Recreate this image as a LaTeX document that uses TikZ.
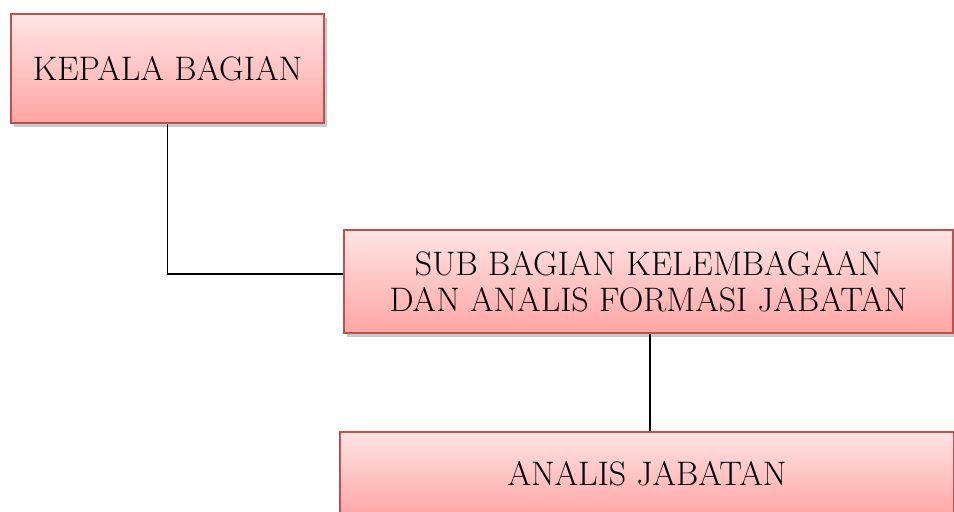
\documentclass[tikz,border=0pt]{standalone}
\usetikzlibrary{shadows}
\definecolor{boxtop}{RGB}{255,228,228}
\definecolor{boxbottom}{RGB}{255,165,165}
\definecolor{boxline}{RGB}{192,80,77}
\begin{document}
\begin{tikzpicture}[x=0.75pt,y=-0.75pt,
    unitbox/.style={draw=boxline, line width=1.2pt, top color=boxtop, bottom color=boxbottom,
      drop shadow={shadow xshift=2pt, shadow yshift=-3pt, opacity=0.3, fill=black!70},
      align=center, inner sep=0pt, font=\fontsize{25.5}{27}\selectfont},
    link/.style={draw, line width=1.4pt}]
  \useasboundingbox (0,0) rectangle (954,511);
  \clip (0,0) rectangle (954,511);
  \node[unitbox, minimum width=234.75pt, minimum height=81.75pt] (kepala) at (167.5,68.5) {KEPALA BAGIAN};
  \node[unitbox, minimum width=457pt, minimum height=77pt] (sub) at (648.5,281.5) {SUB BAGIAN KELEMBAGAAN\\DAN ANALIS FORMASI JABATAN};
  \node[unitbox, minimum width=460.5pt, minimum height=63pt] (analis) at (647,474) {ANALIS JABATAN};
  \coordinate (join) at ([yshift=5.5pt]sub.west);
  \coordinate (drop) at ([xshift=1.4pt]sub.south);
  \draw[link] (kepala.south) |- (join);
  \draw[link] (drop) -- (drop |- analis.north);
\end{tikzpicture}
\end{document}
